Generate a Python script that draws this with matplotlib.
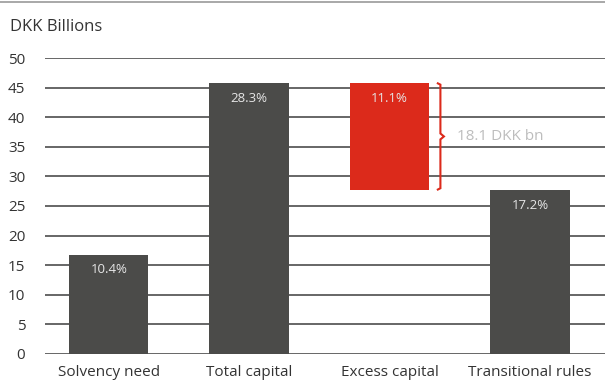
import matplotlib.pyplot as plt
from matplotlib.path import Path
from matplotlib.patches import PathPatch

categories = ['Solvency need', 'Total capital', 'Excess capital', 'Transitional rules']
tops = [16.8, 45.8, 45.8, 27.7]
bottoms = [0, 0, 27.7, 0]
pct_labels = ['10.4%', '28.3%', '11.1%', '17.2%']
bar_colors = ['#4b4b49', '#4b4b49', '#dc2a1b', '#4b4b49']
excess_label = '18.1 DKK bn'
yticks = [0, 5, 10, 15, 20, 25, 30, 35, 40, 45, 50]

plt.rcParams['font.family'] = ['Open Sans', 'DejaVu Sans']

fig = plt.figure(figsize=(6.05, 3.92), dpi=100)
ax = fig.add_axes([0.074, 0.097, 0.926, 0.755])

x = list(range(len(categories)))
heights = [t - b for t, b in zip(tops, bottoms)]
ax.bar(x, heights, bottom=bottoms, width=0.565, color=bar_colors, zorder=3)

for i in x:
    ax.text(i, tops[i] - 2.6, pct_labels[i], ha='center', va='center',
            color='#e6e6e6', fontsize=9.5, zorder=4)

# brace next to the excess bar
bx = 2 + 0.565 / 2 + 0.08
top, bot = tops[2], bottoms[2]
mid = (top + bot) / 2
w = 0.025
verts = [(bx - w, top), (bx, top - 0.3), (bx, mid + 0.5), (bx + w, mid),
         (bx, mid - 0.5), (bx, bot + 0.3), (bx - w, bot)]
ax.add_patch(PathPatch(Path(verts), fill=False, edgecolor='#dc2a1b', lw=1.5, zorder=4,
                       clip_on=False))
ax.text(bx + 0.12, mid, excess_label, ha='left', va='center', color='#bdbdbd', fontsize=11)

ax.set_xlim(-0.456, 3.535)
ax.set_ylim(0, 50)
ax.set_yticks(yticks)
ax.yaxis.grid(True, color='#5a5a5a', lw=1.3, zorder=0)
ax.set_axisbelow(True)
for s in ax.spines.values():
    s.set_visible(False)
ax.set_xticks(x)
ax.set_xticklabels(categories)
ax.tick_params(axis='both', length=0, labelsize=11, colors='#333333')
ax.tick_params(axis='y', pad=14)
ax.tick_params(axis='x', pad=8)

fig.text(0.017, 0.93, 'DKK Billions', fontsize=12, color='#333333', va='center')
fig.add_artist(plt.Line2D([0, 1], [0.995, 0.995], color='#9a9a9a', lw=1.2))

fig.savefig('out.png', dpi=100)
